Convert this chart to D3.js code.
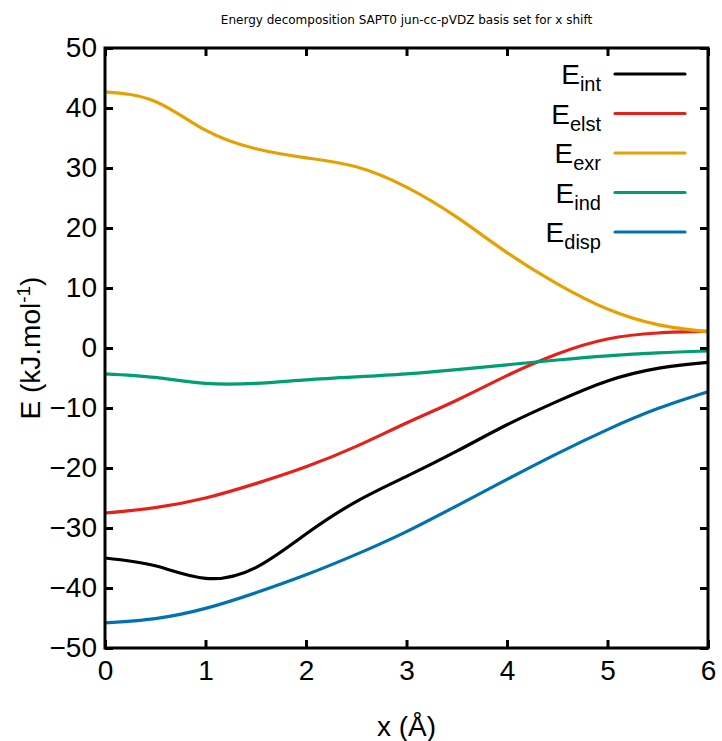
<!DOCTYPE html>
<html lang="en">
<head>
<meta charset="UTF-8">
<title>Energy decomposition SAPT0</title>
<script src="https://d3js.org/d3.v7.min.js"></script>
<style>
  body { margin:0; background:#ffffff; }
  svg { display:block; }
</style>
</head>
<body>
<svg id="chart" width="722" height="741"></svg>
<script>
// x shift (Angstrom)
var xs = [0, 0.5, 1, 1.5, 2, 2.5, 3, 3.5, 4, 4.5, 5, 5.5, 6];
// energies in kJ/mol
var eInt  = [-35.0, -36.3, -38.4, -36.6, -31.0, -25.6, -21.4, -17.2, -12.8, -8.9, -5.5, -3.4, -2.4];
var eElst = [-27.5, -26.6, -25.0, -22.6, -19.8, -16.4, -12.5, -8.7, -4.6, -1.0, 1.5, 2.5, 2.8];
var eExr  = [42.7, 41.1, 36.3, 33.2, 31.7, 30.2, 26.8, 21.8, 15.9, 10.7, 6.5, 3.9, 2.7];
var eInd  = [-4.3, -4.9, -5.9, -5.9, -5.3, -4.8, -4.3, -3.6, -2.8, -2.0, -1.3, -0.8, -0.5];
var eDisp = [-45.8, -45.1, -43.4, -40.8, -37.8, -34.4, -30.6, -26.3, -21.9, -17.6, -13.6, -10.1, -7.3];

var seriesNames = ["int", "elst", "exr", "ind", "disp"];
var seriesVals  = [eInt, eElst, eExr, eInd, eDisp];
var colors = ["#000000", "#e5211a", "#e8a000", "#009e73", "#0072b2"];
var xTicks = [0, 1, 2, 3, 4, 5, 6];
var yTicks = [-50, -40, -30, -20, -10, 0, 10, 20, 30, 40, 50];

var svg = d3.select("#chart");
var margin = {left: 105, top: 48, right: 14, bottom: 93};
var width = 722 - margin.left - margin.right,
    height = 741 - margin.top - margin.bottom;

var x = d3.scaleLinear().domain([0, 6]).range([0, width]);
var y = d3.scaleLinear().domain([-50, 50]).range([height, 0]);

var font = "'Liberation Sans', Arial, sans-serif";

// title
svg.append("text")
  .attr("x", margin.left + width / 2)
  .attr("y", 24)
  .attr("text-anchor", "middle")
  .style("font-family", "'DejaVu Sans', sans-serif")
  .style("font-size", "12px")
  .text("Energy decomposition SAPT0 jun-cc-pVDZ basis set for x shift");

var g = svg.append("g").attr("transform", "translate(" + margin.left + "," + margin.top + ")");

// curves
var line = d3.line()
  .x(function(d) { return x(d[0]); })
  .y(function(d) { return y(d[1]); })
  .curve(d3.curveNatural);

seriesVals.forEach(function(vals, i) {
  g.append("path")
    .datum(xs.map(function(v, j) { return [v, vals[j]]; }))
    .attr("fill", "none")
    .attr("stroke", colors[i])
    .attr("stroke-width", 3.2)
    .attr("stroke-linejoin", "round")
    .attr("d", line);
});

// axes with inward ticks, mirrored on top and right
function styleAxis(sel, showText) {
  sel.select(".domain").remove();
  sel.selectAll(".tick line").attr("stroke", "#000").attr("stroke-width", 3);
  sel.selectAll(".tick text")
    .style("font-family", font)
    .style("font-size", "28px")
    .attr("fill", "#000")
    .style("display", showText ? null : "none");
}

g.append("g")
  .attr("transform", "translate(0," + height + ")")
  .call(d3.axisBottom(x).tickValues(xTicks).tickFormat(d3.format("d")).tickSizeInner(-8).tickPadding(12))
  .call(styleAxis, true);
g.append("g")
  .call(d3.axisTop(x).tickValues(xTicks).tickSizeInner(-8))
  .call(styleAxis, false);
g.append("g")
  .call(d3.axisLeft(y).tickValues(yTicks).tickFormat(d3.format("d")).tickSizeInner(-8).tickPadding(8))
  .call(styleAxis, true);
g.append("g")
  .attr("transform", "translate(" + width + ",0)")
  .call(d3.axisRight(y).tickValues(yTicks).tickSizeInner(-8))
  .call(styleAxis, false);

// frame
g.append("rect")
  .attr("width", width)
  .attr("height", height)
  .attr("fill", "none")
  .attr("stroke", "#000")
  .attr("stroke-width", 3);

// axis labels
svg.append("text")
  .attr("x", margin.left + width / 2)
  .attr("y", 736)
  .attr("text-anchor", "middle")
  .style("font-family", font)
  .style("font-size", "28px")
  .text("x (Å)");

var yl = svg.append("text")
  .attr("transform", "translate(40," + (margin.top + height / 2) + ") rotate(-90)")
  .attr("text-anchor", "middle")
  .style("font-family", font)
  .style("font-size", "28px");
yl.append("tspan").text("E (kJ.mol");
yl.append("tspan").attr("dy", -10).style("font-size", "19px").text("-1");
yl.append("tspan").attr("dy", 10).text(")");

// legend
var legend = g.append("g");
seriesNames.forEach(function(name, i) {
  var ly = 26 + i * 39.5;
  var t = legend.append("text")
    .attr("x", 496)
    .attr("y", ly + 10)
    .attr("text-anchor", "end")
    .style("font-family", font)
    .style("font-size", "28px");
  t.append("tspan").text("E");
  t.append("tspan").attr("dy", 7).style("font-size", "20px").text(name);
  legend.append("line")
    .attr("x1", 510).attr("x2", 580)
    .attr("y1", ly).attr("y2", ly)
    .attr("stroke", colors[i])
    .attr("stroke-width", 3.2)
    .attr("stroke-linecap", "round");
});
</script>
</body>
</html>
